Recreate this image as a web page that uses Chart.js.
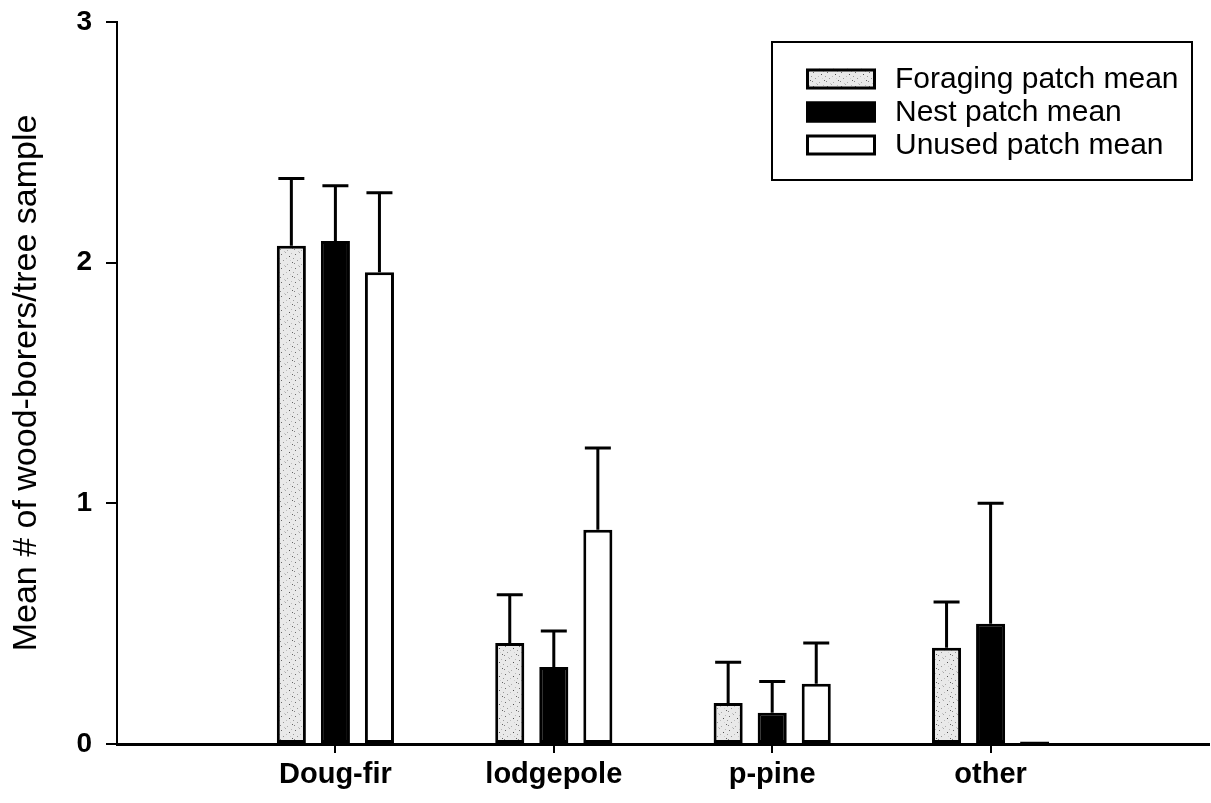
<!DOCTYPE html>
<html>
<head>
<meta charset="utf-8">
<script src="https://cdn.jsdelivr.net/npm/chart.js@4/dist/chart.umd.min.js"></script>
<style>
  html, body { margin: 0; padding: 0; background: #fff; }
  #wrap { width: 1211px; height: 803px; position: relative; }
</style>
</head>
<body>
<div id="wrap"><canvas id="c"></canvas></div>
<script>
// Tree species groups (empty slots at both ends keep the groups off the axes)
const categories = ['', 'Doug-fir', 'lodgepole', 'p-pine', 'other', ''];
const seriesNames = ['Foraging patch mean', 'Nest patch mean', 'Unused patch mean'];

// Means and standard errors per patch type
const foragingMean = [null, 2.07, 0.42, 0.17, 0.40, null];
const foragingSE   = [null, 0.28, 0.20, 0.17, 0.19, null];
const nestMean     = [null, 2.09, 0.32, 0.13, 0.50, null];
const nestSE       = [null, 0.23, 0.15, 0.13, 0.50, null];
const unusedMean   = [null, 1.96, 0.89, 0.25, 0.01, null];
const unusedSE     = [null, 0.33, 0.34, 0.17, null, null];

const yTicks = [0, 1, 2, 3];
const yTitle = 'Mean # of wood-borers/tree sample';

const FONT = '"Liberation Sans", Arial, Helvetica, sans-serif';

// Light stippled fill for the foraging bars
function stipplePattern() {
  const c = document.createElement('canvas');
  c.width = 14; c.height = 14;
  const g = c.getContext('2d');
  g.fillStyle = '#e9e9e9';
  g.fillRect(0, 0, 14, 14);
  const dots = [[1,2,'#6a6a6a'],[5,0,'#a8a8a8'],[9,4,'#505050'],[3,8,'#979797'],
                [12,10,'#626262'],[7,12,'#aaaaaa'],[11,1,'#b8b8b8'],[0,11,'#858585'],
                [6,6,'#bcbcbc'],[13,6,'#9a9a9a'],[4,13,'#c4c4c4'],[10,8,'#d0d0d0']];
  dots.forEach(([x, y, col]) => { g.fillStyle = col; g.fillRect(x, y, 1, 1); });
  return g.createPattern(c, 'repeat');
}
const stipple = stipplePattern();

// Upper error bars with caps
const errorBars = {
  id: 'errorBars',
  afterDatasetsDraw(chart) {
    const ctx = chart.ctx;
    const y = chart.scales.y;
    chart.data.datasets.forEach((ds, di) => {
      const meta = chart.getDatasetMeta(di);
      meta.data.forEach((bar, i) => {
        const m = ds.data[i], e = ds.errors[i];
        if (m == null || e == null) return;
        const yTop = y.getPixelForValue(m + e);
        ctx.save();
        ctx.strokeStyle = '#000';
        ctx.lineWidth = 3;
        ctx.beginPath();
        ctx.moveTo(bar.x, bar.y);
        ctx.lineTo(bar.x, yTop);
        ctx.moveTo(bar.x - 13, yTop);
        ctx.lineTo(bar.x + 13, yTop);
        ctx.stroke();
        ctx.restore();
      });
    });
  }
};

// Boxed legend in the upper right of the plot
const boxedLegend = {
  id: 'boxedLegend',
  afterDraw(chart) {
    const ctx = chart.ctx;
    const bx = 772, by = 42, bw = 420, bh = 138;
    ctx.save();
    ctx.fillStyle = '#fff';
    ctx.fillRect(bx, by, bw, bh);
    ctx.strokeStyle = '#000';
    ctx.lineWidth = 2;
    ctx.strokeRect(bx, by, bw, bh);
    const rowY = [79, 112, 145];
    chart.data.datasets.forEach((ds, i) => {
      const sx = 806, sw = 70, sh = 21, sy = rowY[i] - sh / 2;
      ctx.fillStyle = ds.backgroundColor;
      ctx.fillRect(sx, sy, sw, sh);
      ctx.lineWidth = 3;
      ctx.strokeStyle = '#000';
      ctx.strokeRect(sx + 1.5, sy + 1.5, sw - 3, sh - 3);
      ctx.fillStyle = '#000';
      ctx.font = '30px ' + FONT;
      ctx.textBaseline = 'middle';
      ctx.textAlign = 'left';
      ctx.fillText(ds.label, 895, rowY[i] + 1);
    });
    ctx.restore();
  }
};

const barStyle = { borderColor: '#000', borderWidth: 3, borderSkipped: false,
                   categoryPercentage: 0.605, barPercentage: 0.66 };

new Chart(document.getElementById('c'), {
  type: 'bar',
  data: {
    labels: categories,
    datasets: [
      Object.assign({ label: seriesNames[0], data: foragingMean, errors: foragingSE, backgroundColor: stipple }, barStyle),
      Object.assign({ label: seriesNames[1], data: nestMean, errors: nestSE, backgroundColor: '#000' }, barStyle),
      Object.assign({ label: seriesNames[2], data: unusedMean, errors: unusedSE, backgroundColor: '#fff' }, barStyle)
    ]
  },
  options: {
    responsive: true,
    maintainAspectRatio: false,
    animation: false,
    layout: { padding: { left: 0, right: 2, top: 22, bottom: 0 } },
    plugins: {
      legend: { display: false },
      tooltip: { enabled: false }
    },
    scales: {
      x: {
        type: 'category',
        offset: false,
        border: { display: true, color: '#000', width: 3 },
        grid: {
          offset: false,
          drawOnChartArea: false,
          drawTicks: true,
          tickLength: 9,
          lineWidth: 2,
          color: (c) => (c.tick && c.tick.label) ? '#000' : 'rgba(0,0,0,0)'
        },
        ticks: {
          autoSkip: false, maxRotation: 0, padding: 5, color: '#000',
          font: { family: FONT, size: 29, weight: 'bold' }
        },
        afterFit(scale) { scale.height = 59; scale.paddingLeft = 0; scale.paddingRight = 0; }
      },
      y: {
        min: 0, max: 3,
        afterBuildTicks(scale) { scale.ticks = yTicks.map(v => ({ value: v })); },
        border: { display: true, color: '#000', width: 2 },
        grid: { drawOnChartArea: false, drawTicks: true, tickLength: 11, lineWidth: 2, color: '#000' },
        ticks: {
          padding: 14, color: '#000',
          font: { family: FONT, size: 28, weight: 'bold' }
        },
        title: {
          display: true, text: yTitle, color: '#000',
          font: { family: FONT, size: 34, lineHeight: 1 },
          padding: { top: 10, bottom: 0 }
        },
        afterFit(scale) { scale.width = 117; scale.paddingTop = 0; scale.paddingBottom = 0; }
      }
    }
  },
  plugins: [errorBars, boxedLegend]
});
</script>
</body>
</html>
